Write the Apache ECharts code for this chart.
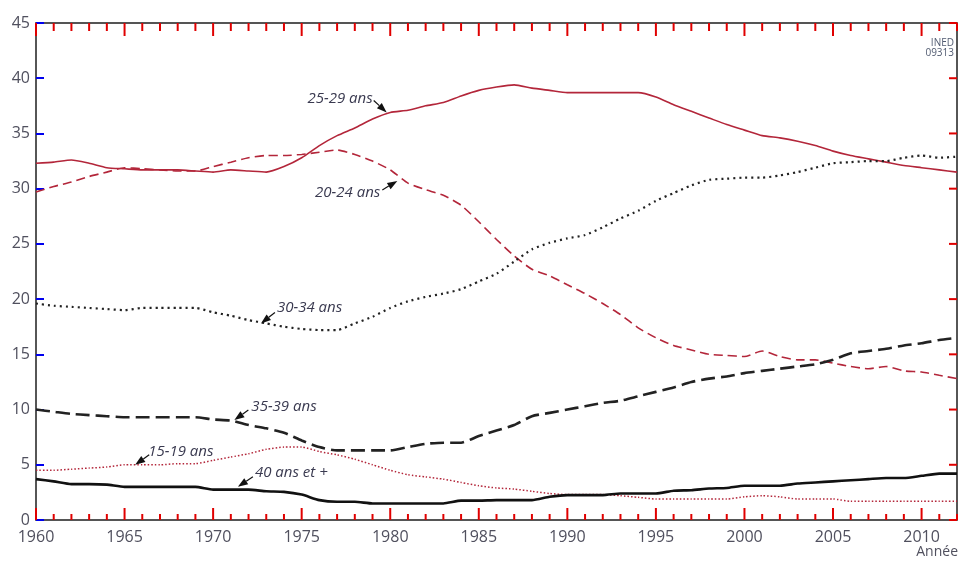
<!DOCTYPE html>
<html>
<head>
<meta charset="utf-8">
<script src="https://cdn.jsdelivr.net/npm/echarts@6/dist/echarts.min.js"></script>
<style>
html,body{margin:0;padding:0;background:#fff;}
#chart{width:962px;height:563px;}
</style>
</head>
<body>
<div id="chart"></div>
<script>
// ---- Data ----
const years = [];
for (let y = 1960; y <= 2012; y++) years.push(y);

const age2529 = [32.3,32.4,32.6,32.3,31.9,31.8,31.7,31.7,31.7,31.6,31.5,31.7,31.6,31.5,32.0,32.8,33.9,34.8,35.5,36.3,36.9,37.1,37.5,37.8,38.4,38.9,39.2,39.4,39.1,38.9,38.7,38.7,38.7,38.7,38.7,38.3,37.6,37.0,36.4,35.8,35.3,34.8,34.6,34.3,33.9,33.4,33.0,32.7,32.4,32.1,31.9,31.7,31.5];
const age2024 = [29.7,30.2,30.6,31.1,31.5,31.9,31.8,31.7,31.6,31.6,32.0,32.4,32.8,33.0,33.0,33.1,33.3,33.5,33.1,32.5,31.7,30.5,29.9,29.4,28.5,27.0,25.4,23.9,22.7,22.1,21.3,20.5,19.6,18.6,17.4,16.5,15.8,15.4,15.0,14.9,14.8,15.3,14.8,14.5,14.5,14.2,13.9,13.7,13.9,13.5,13.4,13.1,12.8];
const age3034 = [19.6,19.4,19.3,19.2,19.1,19.0,19.2,19.2,19.2,19.2,18.8,18.5,18.1,17.8,17.5,17.3,17.2,17.2,17.8,18.4,19.2,19.8,20.2,20.5,20.9,21.6,22.3,23.4,24.5,25.1,25.5,25.8,26.5,27.3,28.0,28.9,29.6,30.3,30.8,30.9,31.0,31.0,31.2,31.5,31.9,32.3,32.4,32.5,32.5,32.8,33.0,32.8,32.9];
const age3539 = [10.0,9.8,9.6,9.5,9.4,9.3,9.3,9.3,9.3,9.3,9.1,9.0,8.6,8.3,7.9,7.2,6.6,6.3,6.3,6.3,6.3,6.6,6.9,7.0,7.0,7.6,8.1,8.6,9.4,9.7,10.0,10.3,10.6,10.8,11.2,11.6,12.0,12.5,12.8,13.0,13.3,13.5,13.7,13.9,14.1,14.5,15.1,15.3,15.5,15.8,16.0,16.3,16.5];
const age1519 = [4.5,4.5,4.6,4.7,4.8,5.0,5.0,5.0,5.1,5.1,5.4,5.7,6.0,6.4,6.6,6.6,6.2,5.9,5.5,5.0,4.5,4.1,3.9,3.7,3.4,3.1,2.9,2.8,2.6,2.4,2.3,2.3,2.3,2.2,2.05,1.9,1.9,1.9,1.9,1.9,2.1,2.2,2.1,1.9,1.9,1.9,1.7,1.7,1.7,1.7,1.7,1.7,1.7];
const age40 = [3.7,3.5,3.25,3.25,3.2,3.0,3.0,3.0,3.0,3.0,2.75,2.75,2.75,2.6,2.55,2.3,1.8,1.65,1.65,1.5,1.5,1.5,1.5,1.5,1.75,1.75,1.8,1.8,1.8,2.1,2.25,2.25,2.25,2.4,2.4,2.4,2.65,2.7,2.85,2.9,3.1,3.1,3.1,3.3,3.4,3.5,3.6,3.7,3.8,3.8,4.0,4.2,4.2];

const seriesNames = ['25-29 ans','20-24 ans','30-34 ans','35-39 ans','15-19 ans','40 ans et +'];
const yTicks = [0,5,10,15,20,25,30,35,40,45];
const xTitle = 'Année';
const sourceLines = ['INED', '09313'];

// annotation anchors on curves (data coords)
const annotations = [
  {text:'25-29 ans',   at:[1979.8,36.9], tail:[-13,-12], tx:-14, ty:-14, align:'right'},
  {text:'20-24 ans',   at:[1980.4,30.7], tail:[-15,9],   tx:-17, ty:12,  align:'right'},
  {text:'30-34 ans',   at:[1972.7,17.8], tail:[14,-11],  tx:16,  ty:-16, align:'left'},
  {text:'35-39 ans',   at:[1971.2,9.05], tail:[14,-10],  tx:17,  ty:-13, align:'left'},
  {text:'15-19 ans',   at:[1965.6,5.0],  tail:[14,-10],  tx:13,  ty:-13, align:'left'},
  {text:'40 ans et +', at:[1971.4,3.0],  tail:[15,-10],  tx:17,  ty:-14, align:'left'}
];

const pairs = arr => years.map((y,i)=>[y, arr[i]]);

const RED = '#b3263a';
const INK = '#1e1e1e';
const TICK = '#e00000';
const LABEL = '#50505e';

const chart = echarts.init(document.getElementById('chart'));

const option = {
  animation:false,
  grid:{left:36, right:5, top:23, bottom:43},
  xAxis:[
    {type:'value', min:1960, max:2012, interval:5, position:'bottom',
      axisLine:{show:true, onZero:false, lineStyle:{color:INK, width:1.5}},
      axisTick:{show:false},
      axisLabel:{show:true, margin:9, color:LABEL, fontSize:16, fontFamily:'Open Sans',
        formatter:v => (v % 5 === 0 ? String(v) : '')},
      splitLine:{show:false}},
    {type:'value', min:1960, max:2012, interval:5, position:'top',
      axisLine:{show:true, onZero:false, lineStyle:{color:INK, width:1.5}},
      axisTick:{show:false}, axisLabel:{show:false}, splitLine:{show:false}}
  ],
  yAxis:[
    {type:'value', min:0, max:45, interval:5, position:'left',
      axisLine:{show:true, onZero:false, lineStyle:{color:INK, width:1.5}},
      axisTick:{show:true, inside:true, length:8, lineStyle:{color:'#0000ee', width:2}},
      axisLabel:{show:true, margin:6, color:LABEL, fontSize:16, fontFamily:'Open Sans'},
      splitLine:{show:false}},
    {type:'value', min:0, max:45, interval:5, position:'right',
      axisLine:{show:true, onZero:false, lineStyle:{color:INK, width:1.5}},
      axisTick:{show:false}, axisLabel:{show:false}, splitLine:{show:false}}
  ],
  series:[
    {name:seriesNames[0], type:'line', data:pairs(age2529), showSymbol:false, smooth:0.2,
      lineStyle:{color:RED, width:1.6, type:'solid'}, z:3},
    {name:seriesNames[1], type:'line', data:pairs(age2024), showSymbol:false, smooth:0.2,
      lineStyle:{color:RED, width:1.6, type:[9,5]}, z:3},
    {name:seriesNames[2], type:'line', data:pairs(age3034), showSymbol:false, smooth:0.2,
      lineStyle:{color:'#222', width:2.2, type:[2,4]}, z:3},
    {name:seriesNames[3], type:'line', data:pairs(age3539), showSymbol:false, smooth:0.2,
      lineStyle:{color:'#222', width:2.6, type:[14,6]}, z:3},
    {name:seriesNames[4], type:'line', data:pairs(age1519), showSymbol:false, smooth:0.2,
      lineStyle:{color:RED, width:1.5, type:[1.5,2]}, z:3},
    {name:seriesNames[5], type:'line', data:pairs(age40), showSymbol:false, smooth:0.2,
      lineStyle:{color:'#111', width:2.6, type:'solid'}, z:3}
  ]
};
chart.setOption(option);

// ---- ticks (from the axis scale), annotations & extra texts ----
const gfx = [];
const toPx = (x, y) => chart.convertToPixel({xAxisIndex:0, yAxisIndex:0}, [x, y]);
const p00 = toPx(1960, 0), p11 = toPx(2012, 45);
const gLeft = p00[0], gBottom = p00[1], gRight = p11[0], gTop = p11[1];
years.forEach(yr => {
  const xx = toPx(yr, 0)[0];
  const major = (yr % 5 === 0);
  const lb = major ? 12 : 6, lt = major ? 13 : 8;
  gfx.push({type:'line', z:20, shape:{x1:xx, y1:gBottom, x2:xx, y2:gBottom - lb}, style:{stroke:TICK, lineWidth:2}});
  gfx.push({type:'line', z:20, shape:{x1:xx, y1:gTop, x2:xx, y2:gTop + lt}, style:{stroke:TICK, lineWidth:2}});
});
yTicks.forEach(v => {
  const yy = toPx(1960, v)[1];
  gfx.push({type:'line', z:20, shape:{x1:gRight, y1:yy, x2:gRight - 8, y2:yy}, style:{stroke:TICK, lineWidth:2}});
});

annotations.forEach(a => {
  const p = toPx(a.at[0], a.at[1]);
  const tx = p[0] + a.tail[0], ty = p[1] + a.tail[1];
  const len = Math.hypot(a.tail[0], a.tail[1]);
  const ux = -a.tail[0]/len, uy = -a.tail[1]/len;
  const hl = 10, hw = 3.6;
  const bx = p[0] - ux*hl, by = p[1] - uy*hl;
  gfx.push({type:'line', z:10, shape:{x1:tx, y1:ty, x2:bx, y2:by},
    style:{stroke:'#111', lineWidth:1.2}});
  gfx.push({type:'polygon', z:10, shape:{points:[
      [p[0], p[1]],
      [bx - uy*hw, by + ux*hw],
      [bx + uy*hw, by - ux*hw]
    ]}, style:{fill:'#111'}});
  gfx.push({type:'text', z:11, x:p[0]+a.tx, y:p[1]+a.ty,
    style:{text:a.text, fill:'#3a3a50', font:'italic 15px "Open Sans"',
      align:a.align, verticalAlign:'middle'}});
});
gfx.push({type:'text', z:11, x:gRight - 3, y:gTop + 15,
  style:{text:sourceLines.join('\n'), fill:'#505a70', font:'10px "Liberation Sans Narrow", "Open Sans"',
    align:'right', verticalAlign:'top', lineHeight:10}});
gfx.push({type:'text', z:11, x:958, y:545,
  style:{text:xTitle, fill:LABEL, font:'14px "Open Sans"', align:'right', verticalAlign:'top'}});
chart.setOption({graphic:gfx});
</script>
</body>
</html>
